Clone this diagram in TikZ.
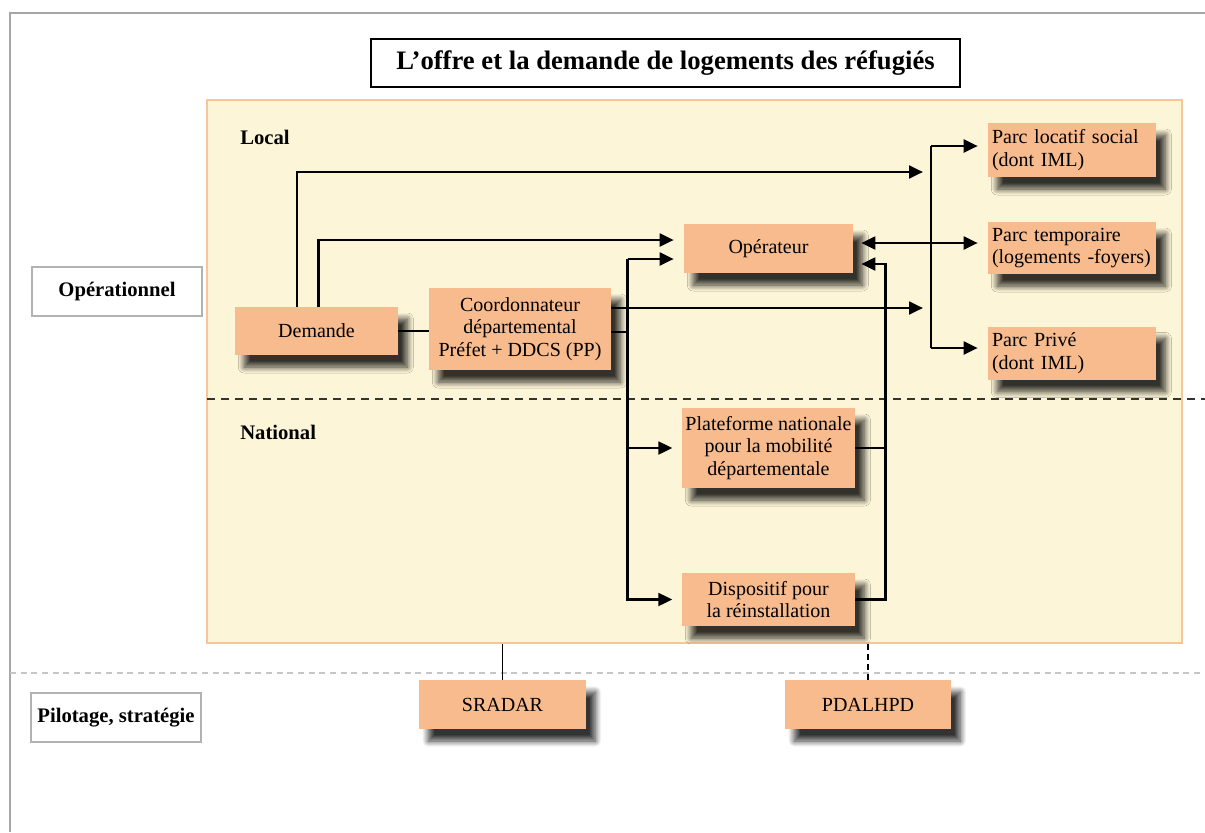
\documentclass[tikz,border=0pt]{standalone}
\usepackage{fontspec}
\setmainfont{Liberation Serif}
\usetikzlibrary{arrows.meta,calc,shadows.blur}
\definecolor{boxfill}{RGB}{247,187,142}
\definecolor{panelfill}{RGB}{253,245,216}
\definecolor{paneledge}{RGB}{244,198,155}
\begin{document}
\begin{tikzpicture}[x=0.75pt,y=-0.75pt,
  sz/.style 2 args={minimum width=#1*0.75pt, minimum height=#2*0.75pt},
  obox/.style={fill=boxfill, draw=none, inner sep=2pt, align=center,
    font=\fontsize{15}{17}\selectfont,
    blur shadow={shadow xshift=7pt, shadow yshift=-9pt, shadow blur radius=4.5pt, shadow blur steps=14, shadow opacity=80}},
  pbox/.style={obox, inner xsep=3pt, text width=160*0.75pt, align=left},
  lbox/.style={draw=gray!60, line width=0.8pt, fill=white, inner sep=1pt,
    font=\bfseries\fontsize{15.5}{18}\selectfont, sz={170}{49}},
  lab/.style={anchor=west, inner sep=0pt, font=\bfseries\fontsize{15.5}{18}\selectfont},
  conn/.style={line width=2.1pt, black},
  arr/.style={conn, -{Triangle[length=10.5pt,width=9.5pt]}, shorten >=7.5pt},
  barr/.style={conn, {Triangle[length=10.5pt,width=9.5pt]}-{Triangle[length=10.5pt,width=9.5pt]}, shorten >=7.5pt, shorten <=6pt},
  thinl/.style={line width=1.1pt, black}
]
\useasboundingbox (0,0) rectangle (1205,832);
% outer frame
\draw[gray!70, line width=1.2pt] (10,832) -- (10,13) -- (1205,13);
% title
\node[draw, line width=2.2pt, sz={589}{48}, font=\bfseries\fontsize{20}{24}\selectfont] (title) at (665.5,63) {L’offre et la demande de logements des réfugiés};
% panel
\node[fill=panelfill, draw=paneledge, line width=1.5pt, sz={975}{543}] (panel) at (694.5,371.5) {};
\coordinate (dl1) at (207,399);
\coordinate (dl2) at (1205,399);
\draw[gray!40!black, line width=1pt, dash pattern=on 6pt off 4.5pt] (dl1) -- (dl2);
\coordinate (gl1) at (10,673);
\coordinate (gl2) at (1205,673);
\draw[gray!45, line width=1.6pt, dash pattern=on 4.5pt off 3.5pt] (gl1) -- (gl2);
% labels
\node[lab] (local) at (240,137) {Local};
\node[lab] (nat) at (240,432) {National};
\node[lbox] (opl) at (117,291.5) {Opérationnel};
\node[lbox] (pil) at (116,717.5) {Pilotage, stratégie};
% boxes
\node[obox, sz={163}{48}] (dem) at (316.5,331) {Demande};
\node[obox, sz={182}{82}] (co) at (520,329) {Coordonnateur\\départemental\\Préfet + DDCS (PP)};
\node[obox, sz={169}{49}] (op) at (768.5,248.5) {Opérateur};
\node[pbox, sz={168}{54}] (pls) at (1072,150) {Parc locatif social\\(dont IML)};
\node[pbox, sz={168}{52}] (pt) at (1072,248) {Parc temporaire\\(logements -foyers)};
\node[pbox, sz={168}{53}] (pp) at (1072,353) {Parc Privé\\(dont IML)};
\node[obox, sz={173}{80}] (pl) at (768.5,448) {Plateforme nationale\\pour la mobilité\\départementale};
\node[obox, sz={173}{53}] (di) at (768.5,599.5) {Dispositif pour\\la réinstallation};
\node[obox, sz={167}{49}] (sr) at (502.5,704.5) {SRADAR};
\node[obox, sz={166}{49}] (pd) at (868,704.5) {PDALHPD};
% connectors
\coordinate (jt) at (931,146);
\coordinate (jb) at (931,348);
\draw[conn] (jt) -- (jb);
\draw[arr] (jt) -- (jt -| pls.west);
\draw[arr] (jb) -- (jb -| pp.west);
\coordinate (bm) at ($(op.east)+(0,-5.5)$);
\draw[barr] (bm) -- (bm -| pt.west);
\coordinate (d1) at ($(dem.north)+(-19.5,0)$);
\coordinate (d2) at ($(dem.north)+(2,0)$);
\coordinate (t1) at ($(jt)+(0,26)$);
\draw[arr, shorten >=6pt] (d1) |- (t1);
\coordinate (o1) at ($(op.west)+(0,-8.5)$);
\draw[arr] (d2) |- (o1);
\draw[conn] (dem.east) -- (dem.east -| co.west);
\coordinate (c1) at ($(co.east)+(0,-21)$);
\coordinate (c2) at ($(co.east)+(0,3)$);
\draw[arr, shorten >=6pt] (c1) -- (c1 -| jt);
\coordinate (lvt) at ($(op.west)+(-56,10.5)$);
\draw[conn] (c2) -- (c2 -| lvt);
\draw[arr] (lvt) -- (lvt -| op.west);
\draw[arr, shorten >=7pt] (lvt) |- (di.west);
\draw[arr, shorten >=7pt] (lvt |- pl.west) -- (pl.west);
\coordinate (rvt) at ($(op.east)+(32,15.5)$);
\draw[arr, shorten >=6pt] (di.east) -| (rvt) -- (rvt -| op.east);
\draw[conn] (pl.east) -- (pl.east -| rvt);
\draw[thinl] (sr.north |- panel.south) -- (sr.north);
\draw[thinl, dash pattern=on 4.5pt off 3pt] (pd.north |- panel.south) -- (pd.north);
\end{tikzpicture}
\end{document}
